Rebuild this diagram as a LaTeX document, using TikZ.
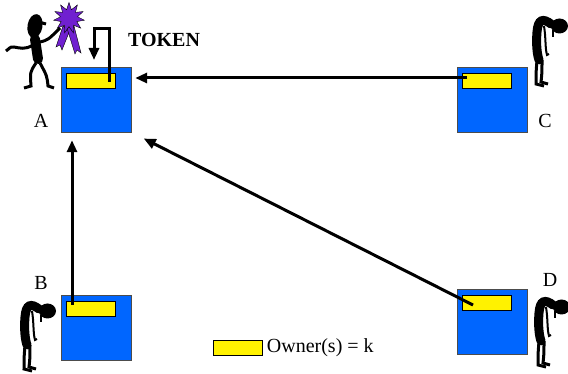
\documentclass[tikz,border=0pt]{standalone}
\usepackage{fontspec}
\setmainfont{Liberation Serif}
\usetikzlibrary{arrows.meta,shapes.geometric,positioning}
\definecolor{siteblue}{RGB}{0,102,255}
\definecolor{ribbon}{RGB}{112,32,208}
\tikzset{
	site/.style={draw=black!70,fill=siteblue,minimum width=70pt,minimum height=65pt,inner sep=0pt},
	owner/.style={draw=black,fill=yellow,minimum width=49pt,minimum height=15pt,inner sep=0pt},
	link/.style={line width=3pt,-{Triangle[length=12pt,width=10pt]}},
	lbl/.style={font=\fontsize{20}{22}\selectfont,inner sep=0pt},
}
\newcommand{\sadfigure}[1]{%
	\begin{scope}[shift={#1}]
	\fill (26.5,8) ellipse [x radius=8.5,y radius=7.5];
	\draw [line width=9pt,line cap=round] (18,6) .. controls (10,0) and (5,1) .. (4,14) .. controls (3,26) and (4,36) .. (6,42);
	\draw [line width=2pt] (11,8) .. controls (13,20) and (12,30) .. (14,37) -- (16,36);
	\draw [line width=1.5pt] (20,12) -- (20,19);
	\draw [line width=3pt] (4,42) .. controls (3,55) .. (3,66) -- (11,68);
	\draw [line width=3pt] (9,42) .. controls (9,55) .. (8,64) -- (15,66);
	\end{scope}}

\begin{document}
\begin{tikzpicture}[x=1pt,y=-1pt]
	\useasboundingbox (0,0) rectangle (568,374);
	\node [site] (boxA) at (96,99.5) {};
	\node [site] (boxC) at (492,99.5) {};
	\node [site] (boxB) at (96,327.5) {};
	\node [site] (boxD) at (492,322) {};
	\node [owner] (ownA) at (90.5,80.5) {};
	\node [owner] (ownC) at (487,80.5) {};
	\node [owner] (ownB) at (90.5,308.5) {};
	\node [owner] (ownD) at (486.5,303) {};
	\node [lbl] (labA) at (41,121) {A};
	\node [lbl] (labB) at (41,283) {B};
	\node [lbl] (labC) at (545,121) {C};
	\node [lbl] (labD) at (550,280) {D};
	\node [font=\bfseries\fontsize{20}{22}\selectfont] (token) at (164,40) {TOKEN};
	\coordinate (tokA) at (109,82);
	\coordinate (tokB) at (72,305);
	\coordinate (tokC) at (467,78);
	\coordinate (tokD) at (473,305);
	\draw [link] (tokA) -- ++(0,-53) -- ++(-15,0) -- ++(0,31);
	\draw [link,shorten >=4pt] (tokC) -- (tokC -| boxA.east);
	\draw [link,shorten >=8pt] (tokB) -- (tokB |- boxA.south);
	\draw [link,shorten >=14pt] (tokD) -- (boxA.south east);
	\node [owner] (key) at (238,347.5) {};
	\node [lbl,right=4pt of key] (keytext) {Owner(s) = k};
	% the happy owner with his ribbon
	\filldraw [fill=ribbon,draw=black,thin] (63,26) -- (56,47) -- (60,45) -- (62,50) -- (70,30) -- cycle;
	\filldraw [fill=ribbon,draw=black,thin] (67,28) -- (75,54) -- (77,50) -- (81,53) -- (74,26) -- cycle;
	\node [star,star points=11,star point ratio=1.8,minimum size=31pt,inner sep=0pt,fill=ribbon,draw=black,thin] (badge) at (69,18) {};
	\fill [rotate around={-10:(35,26)}] (35,26) ellipse [x radius=7.5,y radius=12];
	\draw [line width=3pt] (39,22) -- (46,24);
	\draw [line width=10pt,line cap=round] (35,39) -- (38,59);
	\draw [line width=3pt] (40,42) .. controls (48,40) .. (60,28);
	\draw [line width=3pt] (33,45) .. controls (25,50) and (20,48) .. (14,47) .. controls (10,46) and (8,50) .. (6,51);
	\draw [line width=3pt] (36,63) .. controls (30,72) .. (31,86) -- (24,88);
	\draw [line width=3pt] (40,63) .. controls (47,76) .. (48,86) -- (54,88);
	% the others, waiting
	\sadfigure{(533,18)}
	\sadfigure{(21,303)}
	\sadfigure{(535,299)}
\end{tikzpicture}
\end{document}
